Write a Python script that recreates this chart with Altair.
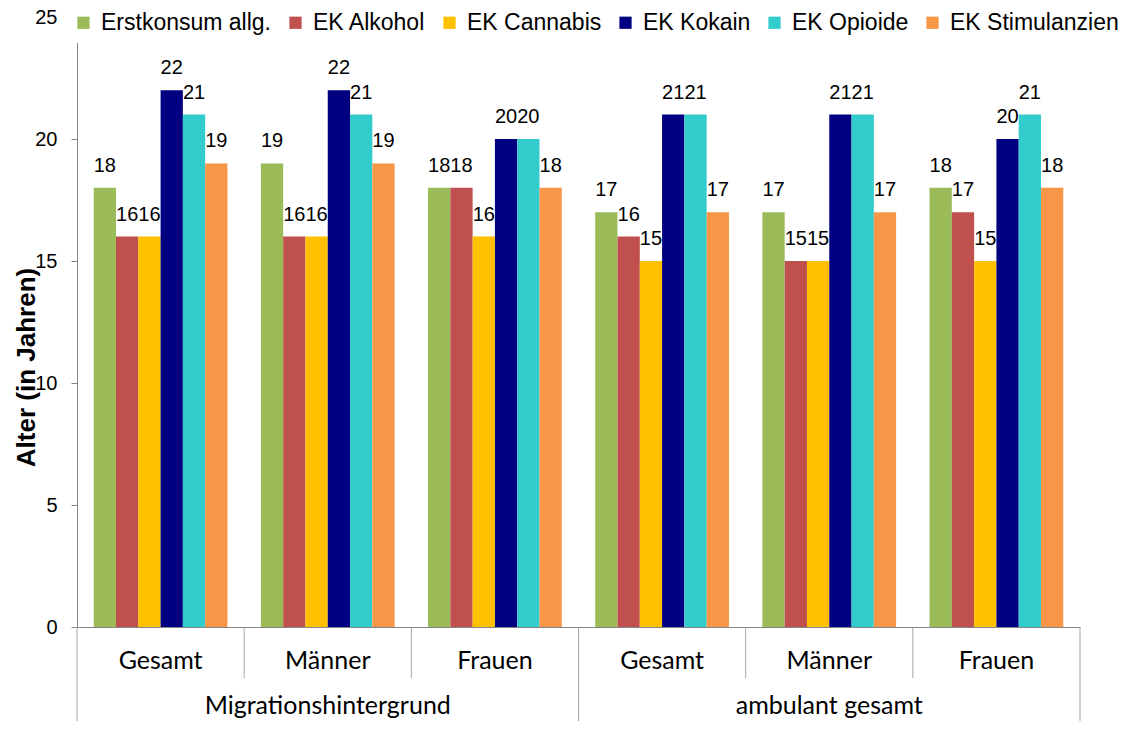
import altair as alt
import pandas as pd

# ---- data ----
inner_groups = ["Gesamt", "Männer", "Frauen", "Gesamt", "Männer", "Frauen"]
outer_groups = ["Migrationshintergrund", "ambulant gesamt"]
outer_of_inner = [0, 0, 0, 1, 1, 1]
series = ["Erstkonsum allg.", "EK Alkohol", "EK Cannabis", "EK Kokain", "EK Opioide", "EK Stimulanzien"]
colors = ["#9BBB59", "#C0504D", "#FFC000", "#000080", "#33CCCC", "#F79646"]

erstkonsum = [18, 19, 18, 17, 17, 18]
alkohol = [16, 16, 18, 16, 15, 17]
cannabis = [16, 16, 16, 15, 15, 15]
kokain = [22, 22, 20, 21, 21, 20]
opioide = [21, 21, 20, 21, 21, 21]
stimulanzien = [19, 19, 18, 17, 17, 18]
y_ticks = [0, 5, 10, 15, 20, 25]

# ---- tables ----
keys = [f"{outer_groups[o]}|{g}|{i}" for i, (g, o) in enumerate(zip(inner_groups, outer_of_inner))]
values = [erstkonsum, alkohol, cannabis, kokain, opioide, stimulanzien]
rows = []
for s, vals in zip(series, values):
    for k, v in zip(keys, vals):
        rows.append({"key": k, "series": s, "value": v})
df = pd.DataFrame(rows)

n = len(keys)
inner_df = pd.DataFrame({"pos": [i + 0.5 for i in range(n)], "label": inner_groups})
outer_df = pd.DataFrame({
    "pos": [(outer_of_inner.index(j) + n - 1 - outer_of_inner[::-1].index(j) + 1) / 2 for j in range(len(outer_groups))],
    "label": outer_groups,
})
inner_bounds = pd.DataFrame({"b": [i for i in range(1, n) if outer_of_inner[i] == outer_of_inner[i - 1]]})
outer_bounds = pd.DataFrame({"b": [0] + [i for i in range(1, n) if outer_of_inner[i] != outer_of_inner[i - 1]] + [n]})

W, H = 1003, 610
AX = "#868686"
SEP = "#A6A6A6"
ARIAL = "Liberation Sans"
CAL = "Lato"

x_band = alt.X("key:N", sort=keys,
               scale=alt.Scale(paddingInner=0.2, paddingOuter=0.1),
               axis=alt.Axis(labels=False, ticks=False, title=None, domainColor=AX, domainWidth=1))
x_off = alt.XOffset("series:N", sort=series, scale=alt.Scale(paddingInner=0, paddingOuter=0))
y_enc = alt.Y("value:Q", scale=alt.Scale(domain=[0, 25], nice=False),
              axis=alt.Axis(values=y_ticks, grid=False, domainColor=AX, tickColor=AX, tickSize=6,
                            labelFont=ARIAL, labelFontSize=20, labelColor="black", labelPadding=14,
                            title="Alter (in Jahren)", titleFont=ARIAL, titleFontSize=26,
                            titleFontWeight="bold", titleColor="black", titleX=-51, titleY=350,
                            titleAlign="center", titleBaseline="middle"))
color_enc = alt.Color("series:N", sort=series, scale=alt.Scale(domain=series, range=colors),
                      legend=alt.Legend(title=None, orient="none", legendX=-13, legendY=-14,
                                        direction="horizontal", columns=6, symbolType="square",
                                        symbolSize=150, symbolStrokeWidth=0, labelFont=ARIAL,
                                        labelFontSize=23, labelColor="black", labelOffset=6,
                                        columnPadding=12, padding=8, fillColor="white",
                                        labelLimit=0))

base = alt.Chart(df)
bars = base.mark_bar().encode(x=x_band, xOffset=x_off, y=y_enc, color=color_enc)
labels = base.mark_text(baseline="alphabetic", dy=-16, font=ARIAL, fontSize=20, color="black").encode(
    x=x_band, xOffset=x_off, y=alt.Y("value:Q"), text=alt.Text("value:Q", format="d"))
bar_layer = alt.layer(bars, labels)

xq = lambda f: alt.X(f, scale=alt.Scale(domain=[0, n], nice=False, zero=False), axis=None)

inner_sep = alt.Chart(inner_bounds).mark_rule(color=SEP, strokeWidth=1).encode(
    x=xq("b:Q"), y=alt.value(H), y2=alt.value(H + 51))
outer_sep = alt.Chart(outer_bounds).mark_rule(color=SEP, strokeWidth=1).encode(
    x=xq("b:Q"), y=alt.value(H), y2=alt.value(H + 110))
inner_txt = alt.Chart(inner_df).mark_text(font=CAL, fontSize=25, baseline="alphabetic", color="black").encode(
    x=xq("pos:Q"), y=alt.value(652), text="label:N")
outer_txt = alt.Chart(outer_df).mark_text(font=CAL, fontSize=25, baseline="alphabetic", color="black").encode(
    x=xq("pos:Q"), y=alt.value(697), text="label:N")

chart = alt.layer(bar_layer, inner_sep, outer_sep, inner_txt, outer_txt).resolve_scale(
    x="independent"
).properties(
    width=W, height=H,
    padding={"left": 69, "top": 9, "right": 55, "bottom": 94},
    autosize=alt.AutoSizeParams(type="none"),
    background="white",
).configure_view(stroke=None)

chart.save("out.html", embed_options={"renderer": "svg", "actions": False})
